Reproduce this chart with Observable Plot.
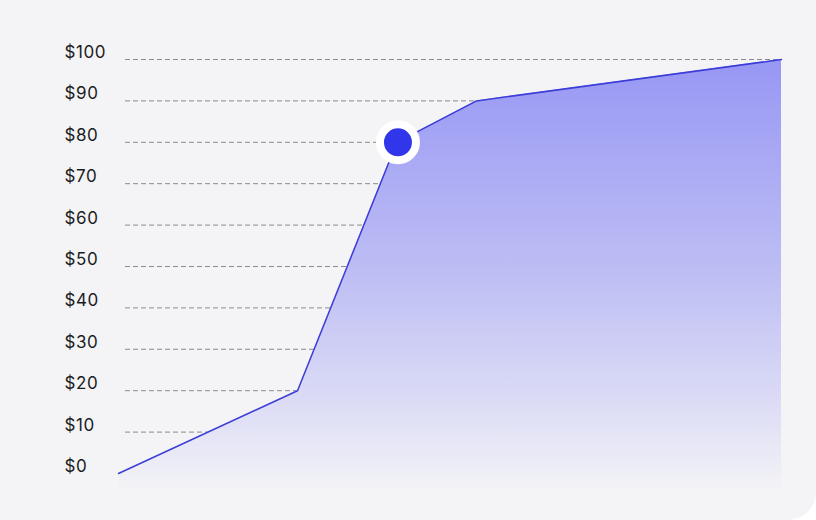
<!DOCTYPE html>
<html>
<head>
<meta charset="utf-8">
<script src="https://cdn.jsdelivr.net/npm/d3@7"></script>
<script src="https://cdn.jsdelivr.net/npm/@observablehq/plot@0.6"></script>
<style>
  html, body { margin: 0; padding: 0; background: #ffffff; }
  #card { width: 816px; height: 520px; background: #f4f4f6; border-radius: 0 0 28px 0; overflow: hidden; position: relative; }
  #card svg { display: block; }
  #card svg text { letter-spacing: 0.6px; }
</style>
</head>
<body>
<div id="card"></div>
<script>
// Data
const xs = [0, 27, 42, 54, 100];
const prices = [0, 20, 80, 90, 100];
const tickValues = [0, 10, 20, 30, 40, 50, 60, 70, 80, 90, 100];
const tickLabels = ["$0", "$10", "$20", "$30", "$40", "$50", "$60", "$70", "$80", "$90", "$100"];
const gridValues = [10, 20, 30, 40, 50, 60, 70, 80, 90, 100];
const highlightIndex = 2;
const baseline = -4;

const data = xs.map((x, i) => ({x, y: prices[i]}));
const ticks = tickValues.map((v, i) => ({v, label: tickLabels[i]}));
const highlight = [data[highlightIndex]];

const chart = Plot.plot({
  width: 816,
  height: 520,
  marginTop: 59,
  marginBottom: 47,
  marginLeft: 118,
  marginRight: 35,
  style: {background: "transparent", fontFamily: "Inter, sans-serif", overflow: "visible"},
  x: {domain: [0, 100], axis: null},
  y: {domain: [0, 100], axis: null},
  marks: [
    Plot.ruleY(gridValues, {stroke: "#8a8a8e", strokeWidth: 1, strokeDasharray: "5,3", insetLeft: 7}),
    Plot.areaY(data, {x: "x", y1: baseline, y2: "y", fill: "url(#areaGrad)"}),
    Plot.line(data, {x: "x", y: "y", stroke: "#3d3dd8", strokeWidth: 1.5}),
    Plot.text(ticks, {y: "v", text: "label", frameAnchor: "left", textAnchor: "start", dx: -54, dy: -7, fontSize: 17, fill: "#1c1c1e"}),
    Plot.dot(highlight, {x: "x", y: "y", r: 18, fill: "#3236ea", stroke: "#ffffff", strokeWidth: 8, dx: 1, ariaLabel: "halo"})
  ]
});

const ns = "http://www.w3.org/2000/svg";
const defs = document.createElementNS(ns, "defs");
defs.innerHTML = `
  <linearGradient id="areaGrad" x1="0" y1="0" x2="0" y2="1">
    <stop offset="0" stop-color="#9797f5"/>
    <stop offset="0.5" stop-color="#bebef4"/>
    <stop offset="0.8" stop-color="#dcdcf6"/>
    <stop offset="1" stop-color="#f3f3f6"/>
  </linearGradient>
  <filter id="dotShadow" x="-50%" y="-50%" width="200%" height="200%">
    <feDropShadow dx="0" dy="1" stdDeviation="3" flood-color="#000" flood-opacity="0.18"/>
  </filter>`;
chart.insertBefore(defs, chart.firstChild);
const halo = chart.querySelector('g[aria-label="halo"]');
if (halo) halo.setAttribute("filter", "url(#dotShadow)");
document.getElementById("card").appendChild(chart);
</script>
</body>
</html>
